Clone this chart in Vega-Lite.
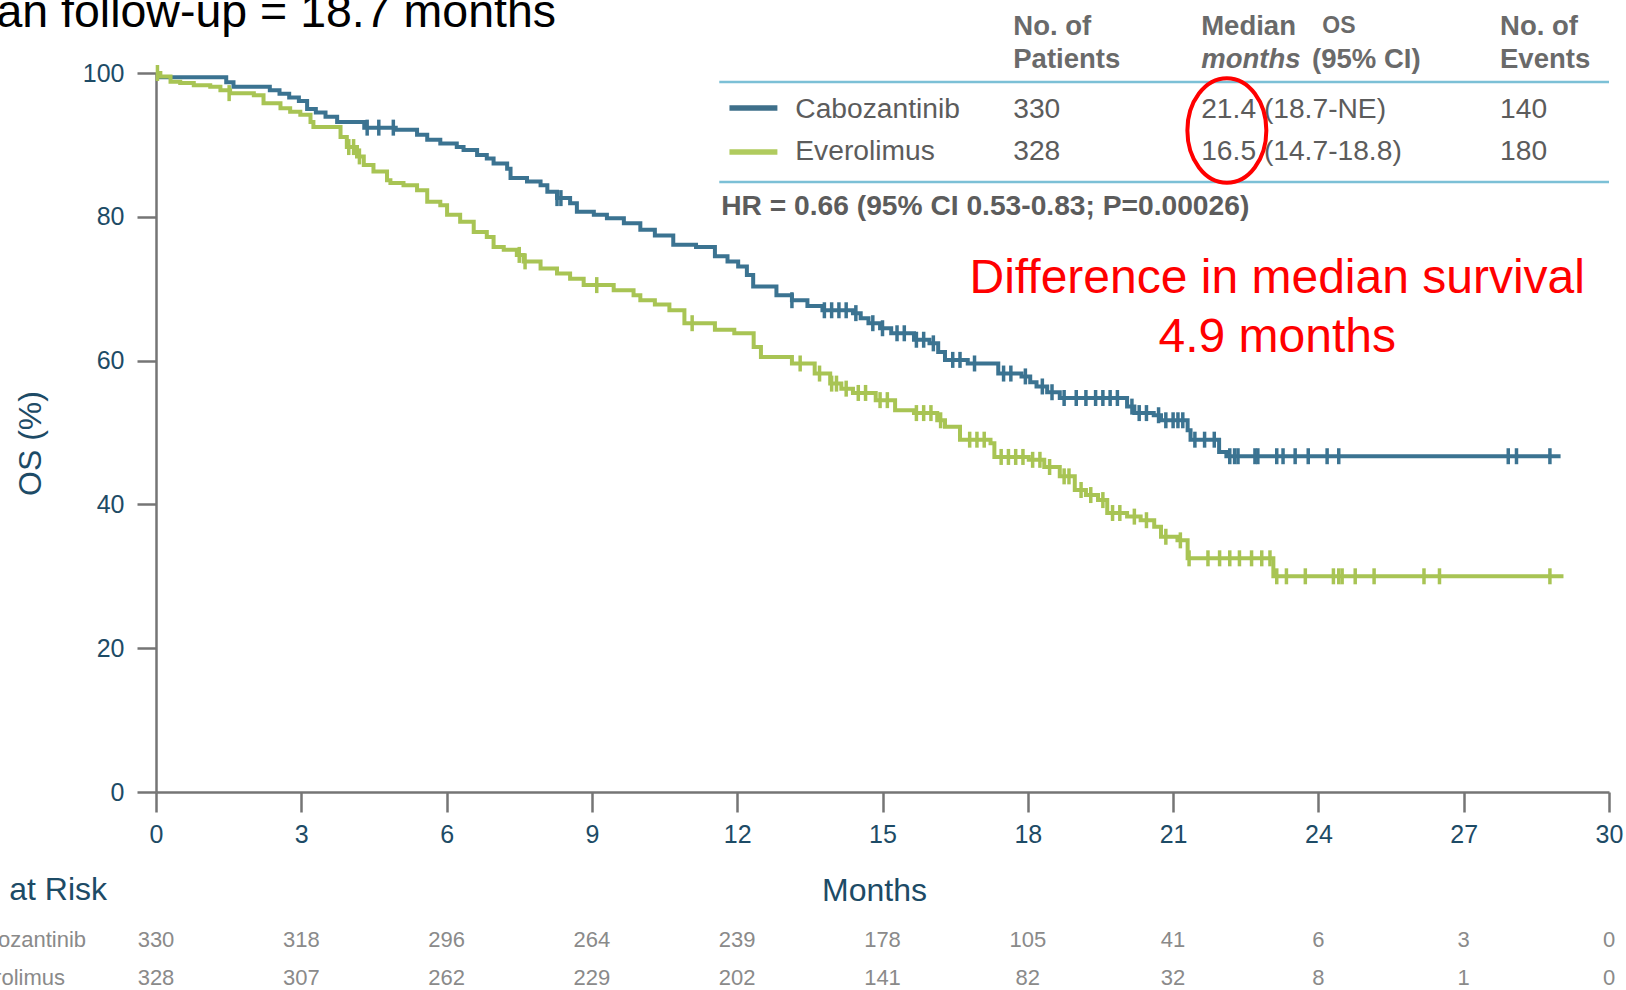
{
  "$schema": "https://vega.github.io/schema/vega-lite/v6.json",
  "width": 1453,
  "height": 719,
  "autosize": {"type": "none"},
  "padding": {"left": 156, "top": 73, "right": 17, "bottom": 198},
  "background": "white",
  "config": {"view": {"stroke": null}, "font": "Liberation Sans"},
  "datasets": {
    "km": [
      {"arm":"Cabozantinib","t":0,"s":100},{"arm":"Cabozantinib","t":0.05,"s":99.4},{"arm":"Cabozantinib","t":1.45,"s":98.7},{"arm":"Cabozantinib","t":1.6,"s":98.1},{"arm":"Cabozantinib","t":2.35,"s":97.6},{"arm":"Cabozantinib","t":2.55,"s":97.1},{"arm":"Cabozantinib","t":2.75,"s":96.6},{"arm":"Cabozantinib","t":2.95,"s":96.1},{"arm":"Cabozantinib","t":3.12,"s":95.0},{"arm":"Cabozantinib","t":3.3,"s":94.5},{"arm":"Cabozantinib","t":3.5,"s":93.9},{"arm":"Cabozantinib","t":3.74,"s":93.2},{"arm":"Cabozantinib","t":4.3,"s":92.4},{"arm":"Cabozantinib","t":4.95,"s":92.1},{"arm":"Cabozantinib","t":5.39,"s":91.4},{"arm":"Cabozantinib","t":5.6,"s":90.7},{"arm":"Cabozantinib","t":5.87,"s":90.2},{"arm":"Cabozantinib","t":6.21,"s":89.7},{"arm":"Cabozantinib","t":6.35,"s":89.3},{"arm":"Cabozantinib","t":6.63,"s":88.6},{"arm":"Cabozantinib","t":6.83,"s":88.1},{"arm":"Cabozantinib","t":6.97,"s":87.4},{"arm":"Cabozantinib","t":7.25,"s":86.7},{"arm":"Cabozantinib","t":7.32,"s":85.4},{"arm":"Cabozantinib","t":7.66,"s":84.9},{"arm":"Cabozantinib","t":7.94,"s":84.4},{"arm":"Cabozantinib","t":8.08,"s":83.5},{"arm":"Cabozantinib","t":8.28,"s":82.6},{"arm":"Cabozantinib","t":8.55,"s":81.9},{"arm":"Cabozantinib","t":8.69,"s":80.7},{"arm":"Cabozantinib","t":9.04,"s":80.3},{"arm":"Cabozantinib","t":9.31,"s":79.8},{"arm":"Cabozantinib","t":9.66,"s":79.1},{"arm":"Cabozantinib","t":10.0,"s":78.2},{"arm":"Cabozantinib","t":10.3,"s":77.4},{"arm":"Cabozantinib","t":10.68,"s":76.1},{"arm":"Cabozantinib","t":11.15,"s":75.8},{"arm":"Cabozantinib","t":11.54,"s":74.5},{"arm":"Cabozantinib","t":11.8,"s":73.8},{"arm":"Cabozantinib","t":12.02,"s":73.1},{"arm":"Cabozantinib","t":12.2,"s":71.9},{"arm":"Cabozantinib","t":12.33,"s":70.3},{"arm":"Cabozantinib","t":12.81,"s":69.1},{"arm":"Cabozantinib","t":13.13,"s":68.4},{"arm":"Cabozantinib","t":13.45,"s":67.6},{"arm":"Cabozantinib","t":13.76,"s":67.0},{"arm":"Cabozantinib","t":14.39,"s":66.6},{"arm":"Cabozantinib","t":14.55,"s":65.9},{"arm":"Cabozantinib","t":14.71,"s":65.2},{"arm":"Cabozantinib","t":14.95,"s":64.5},{"arm":"Cabozantinib","t":15.18,"s":63.8},{"arm":"Cabozantinib","t":15.65,"s":62.9},{"arm":"Cabozantinib","t":15.97,"s":62.4},{"arm":"Cabozantinib","t":16.15,"s":61.2},{"arm":"Cabozantinib","t":16.29,"s":60.1},{"arm":"Cabozantinib","t":16.76,"s":59.6},{"arm":"Cabozantinib","t":17.39,"s":58.2},{"arm":"Cabozantinib","t":17.87,"s":57.8},{"arm":"Cabozantinib","t":18.05,"s":57.0},{"arm":"Cabozantinib","t":18.18,"s":56.4},{"arm":"Cabozantinib","t":18.4,"s":55.6},{"arm":"Cabozantinib","t":18.66,"s":54.8},{"arm":"Cabozantinib","t":20.05,"s":53.6},{"arm":"Cabozantinib","t":20.2,"s":52.7},{"arm":"Cabozantinib","t":20.6,"s":52.4},{"arm":"Cabozantinib","t":20.75,"s":51.7},{"arm":"Cabozantinib","t":21.3,"s":50.3},{"arm":"Cabozantinib","t":21.36,"s":49.0},{"arm":"Cabozantinib","t":21.95,"s":47.3},{"arm":"Cabozantinib","t":22.1,"s":46.7},{"arm":"Cabozantinib","t":29.0,"s":46.7},
      {"arm":"Everolimus","t":0,"s":100},{"arm":"Everolimus","t":0.09,"s":99.5},{"arm":"Everolimus","t":0.3,"s":98.8},{"arm":"Everolimus","t":0.5,"s":98.6},{"arm":"Everolimus","t":0.78,"s":98.3},{"arm":"Everolimus","t":1.12,"s":98.1},{"arm":"Everolimus","t":1.33,"s":97.6},{"arm":"Everolimus","t":1.53,"s":97.2},{"arm":"Everolimus","t":2.02,"s":96.9},{"arm":"Everolimus","t":2.22,"s":95.8},{"arm":"Everolimus","t":2.57,"s":95.1},{"arm":"Everolimus","t":2.77,"s":94.6},{"arm":"Everolimus","t":2.98,"s":94.2},{"arm":"Everolimus","t":3.19,"s":93.2},{"arm":"Everolimus","t":3.25,"s":92.5},{"arm":"Everolimus","t":3.81,"s":91.1},{"arm":"Everolimus","t":3.94,"s":89.7},{"arm":"Everolimus","t":4.15,"s":88.4},{"arm":"Everolimus","t":4.29,"s":87.2},{"arm":"Everolimus","t":4.49,"s":86.3},{"arm":"Everolimus","t":4.77,"s":85.1},{"arm":"Everolimus","t":4.84,"s":84.7},{"arm":"Everolimus","t":5.11,"s":84.4},{"arm":"Everolimus","t":5.39,"s":83.7},{"arm":"Everolimus","t":5.6,"s":82.1},{"arm":"Everolimus","t":5.87,"s":81.6},{"arm":"Everolimus","t":6.01,"s":80.3},{"arm":"Everolimus","t":6.28,"s":79.3},{"arm":"Everolimus","t":6.56,"s":77.9},{"arm":"Everolimus","t":6.83,"s":77.2},{"arm":"Everolimus","t":6.97,"s":75.8},{"arm":"Everolimus","t":7.18,"s":75.4},{"arm":"Everolimus","t":7.45,"s":74.7},{"arm":"Everolimus","t":7.59,"s":73.8},{"arm":"Everolimus","t":7.94,"s":72.8},{"arm":"Everolimus","t":8.28,"s":72.1},{"arm":"Everolimus","t":8.55,"s":71.4},{"arm":"Everolimus","t":8.83,"s":70.5},{"arm":"Everolimus","t":9.45,"s":69.8},{"arm":"Everolimus","t":9.86,"s":69.1},{"arm":"Everolimus","t":10.0,"s":68.4},{"arm":"Everolimus","t":10.3,"s":67.8},{"arm":"Everolimus","t":10.6,"s":67.0},{"arm":"Everolimus","t":10.91,"s":65.2},{"arm":"Everolimus","t":11.54,"s":64.3},{"arm":"Everolimus","t":11.94,"s":63.8},{"arm":"Everolimus","t":12.34,"s":61.9},{"arm":"Everolimus","t":12.49,"s":60.5},{"arm":"Everolimus","t":13.13,"s":59.6},{"arm":"Everolimus","t":13.6,"s":58.2},{"arm":"Everolimus","t":13.92,"s":56.8},{"arm":"Everolimus","t":14.15,"s":56.1},{"arm":"Everolimus","t":14.39,"s":55.5},{"arm":"Everolimus","t":14.86,"s":54.5},{"arm":"Everolimus","t":15.26,"s":53.1},{"arm":"Everolimus","t":15.65,"s":52.7},{"arm":"Everolimus","t":16.13,"s":51.7},{"arm":"Everolimus","t":16.29,"s":50.8},{"arm":"Everolimus","t":16.6,"s":49.0},{"arm":"Everolimus","t":17.23,"s":48.5},{"arm":"Everolimus","t":17.31,"s":46.6},{"arm":"Everolimus","t":18.02,"s":46.2},{"arm":"Everolimus","t":18.34,"s":45.2},{"arm":"Everolimus","t":18.66,"s":43.9},{"arm":"Everolimus","t":18.97,"s":42.0},{"arm":"Everolimus","t":19.2,"s":41.3},{"arm":"Everolimus","t":19.45,"s":40.6},{"arm":"Everolimus","t":19.64,"s":38.8},{"arm":"Everolimus","t":20.05,"s":38.3},{"arm":"Everolimus","t":20.33,"s":37.8},{"arm":"Everolimus","t":20.61,"s":36.9},{"arm":"Everolimus","t":20.75,"s":35.5},{"arm":"Everolimus","t":21.09,"s":35.0},{"arm":"Everolimus","t":21.3,"s":32.5},{"arm":"Everolimus","t":23.07,"s":30.0},{"arm":"Everolimus","t":29.06,"s":30.0}
    ],
    "censored": [
      {"arm":"Cabozantinib","t":4.36,"s":92.4},{"arm":"Cabozantinib","t":4.6,"s":92.4},{"arm":"Cabozantinib","t":4.9,"s":92.4},{"arm":"Cabozantinib","t":8.28,"s":82.6},{"arm":"Cabozantinib","t":8.36,"s":82.6},{"arm":"Cabozantinib","t":13.13,"s":68.4},{"arm":"Cabozantinib","t":13.8,"s":67.0},{"arm":"Cabozantinib","t":13.95,"s":67.0},{"arm":"Cabozantinib","t":14.1,"s":67.0},{"arm":"Cabozantinib","t":14.25,"s":67.0},{"arm":"Cabozantinib","t":14.45,"s":66.6},{"arm":"Cabozantinib","t":14.8,"s":65.2},{"arm":"Cabozantinib","t":15.0,"s":64.5},{"arm":"Cabozantinib","t":15.3,"s":63.8},{"arm":"Cabozantinib","t":15.45,"s":63.8},{"arm":"Cabozantinib","t":15.7,"s":62.9},{"arm":"Cabozantinib","t":15.85,"s":62.9},{"arm":"Cabozantinib","t":16.05,"s":62.4},{"arm":"Cabozantinib","t":16.45,"s":60.1},{"arm":"Cabozantinib","t":16.6,"s":60.1},{"arm":"Cabozantinib","t":16.9,"s":59.6},{"arm":"Cabozantinib","t":17.5,"s":58.2},{"arm":"Cabozantinib","t":17.65,"s":58.2},{"arm":"Cabozantinib","t":17.95,"s":57.8},{"arm":"Cabozantinib","t":18.3,"s":56.4},{"arm":"Cabozantinib","t":18.5,"s":55.6},{"arm":"Cabozantinib","t":18.75,"s":54.8},{"arm":"Cabozantinib","t":19.0,"s":54.8},{"arm":"Cabozantinib","t":19.2,"s":54.8},{"arm":"Cabozantinib","t":19.4,"s":54.8},{"arm":"Cabozantinib","t":19.55,"s":54.8},{"arm":"Cabozantinib","t":19.7,"s":54.8},{"arm":"Cabozantinib","t":19.85,"s":54.8},{"arm":"Cabozantinib","t":20.15,"s":53.6},{"arm":"Cabozantinib","t":20.3,"s":52.7},{"arm":"Cabozantinib","t":20.45,"s":52.7},{"arm":"Cabozantinib","t":20.7,"s":52.4},{"arm":"Cabozantinib","t":20.85,"s":51.7},{"arm":"Cabozantinib","t":21.0,"s":51.7},{"arm":"Cabozantinib","t":21.1,"s":51.7},{"arm":"Cabozantinib","t":21.2,"s":51.7},{"arm":"Cabozantinib","t":21.45,"s":49.0},{"arm":"Cabozantinib","t":21.65,"s":49.0},{"arm":"Cabozantinib","t":21.85,"s":49.0},{"arm":"Cabozantinib","t":22.17,"s":46.7},{"arm":"Cabozantinib","t":22.27,"s":46.7},{"arm":"Cabozantinib","t":22.34,"s":46.7},{"arm":"Cabozantinib","t":22.69,"s":46.7},{"arm":"Cabozantinib","t":22.75,"s":46.7},{"arm":"Cabozantinib","t":23.14,"s":46.7},{"arm":"Cabozantinib","t":23.27,"s":46.7},{"arm":"Cabozantinib","t":23.52,"s":46.7},{"arm":"Cabozantinib","t":23.79,"s":46.7},{"arm":"Cabozantinib","t":24.18,"s":46.7},{"arm":"Cabozantinib","t":24.42,"s":46.7},{"arm":"Cabozantinib","t":27.92,"s":46.7},{"arm":"Cabozantinib","t":28.09,"s":46.7},{"arm":"Cabozantinib","t":28.78,"s":46.7},
      {"arm":"Everolimus","t":0.03,"s":100},{"arm":"Everolimus","t":1.51,"s":97.2},{"arm":"Everolimus","t":3.98,"s":89.7},{"arm":"Everolimus","t":4.08,"s":89.7},{"arm":"Everolimus","t":4.2,"s":88.4},{"arm":"Everolimus","t":7.5,"s":74.7},{"arm":"Everolimus","t":7.62,"s":73.8},{"arm":"Everolimus","t":9.1,"s":70.5},{"arm":"Everolimus","t":11.07,"s":65.2},{"arm":"Everolimus","t":13.3,"s":59.6},{"arm":"Everolimus","t":13.7,"s":58.2},{"arm":"Everolimus","t":13.95,"s":56.8},{"arm":"Everolimus","t":14.05,"s":56.8},{"arm":"Everolimus","t":14.25,"s":56.1},{"arm":"Everolimus","t":14.5,"s":55.5},{"arm":"Everolimus","t":14.65,"s":55.5},{"arm":"Everolimus","t":14.95,"s":54.5},{"arm":"Everolimus","t":15.1,"s":54.5},{"arm":"Everolimus","t":15.7,"s":52.7},{"arm":"Everolimus","t":15.85,"s":52.7},{"arm":"Everolimus","t":16.0,"s":52.7},{"arm":"Everolimus","t":16.2,"s":51.7},{"arm":"Everolimus","t":16.8,"s":49.0},{"arm":"Everolimus","t":16.95,"s":49.0},{"arm":"Everolimus","t":17.1,"s":49.0},{"arm":"Everolimus","t":17.45,"s":46.6},{"arm":"Everolimus","t":17.6,"s":46.6},{"arm":"Everolimus","t":17.75,"s":46.6},{"arm":"Everolimus","t":17.9,"s":46.6},{"arm":"Everolimus","t":18.1,"s":46.2},{"arm":"Everolimus","t":18.25,"s":46.2},{"arm":"Everolimus","t":18.45,"s":45.2},{"arm":"Everolimus","t":18.75,"s":43.9},{"arm":"Everolimus","t":18.85,"s":43.9},{"arm":"Everolimus","t":19.1,"s":42.0},{"arm":"Everolimus","t":19.3,"s":41.3},{"arm":"Everolimus","t":19.55,"s":40.6},{"arm":"Everolimus","t":19.75,"s":38.8},{"arm":"Everolimus","t":19.9,"s":38.8},{"arm":"Everolimus","t":20.2,"s":38.3},{"arm":"Everolimus","t":20.45,"s":37.8},{"arm":"Everolimus","t":20.85,"s":35.5},{"arm":"Everolimus","t":21.15,"s":35.0},{"arm":"Everolimus","t":21.33,"s":32.5},{"arm":"Everolimus","t":21.72,"s":32.5},{"arm":"Everolimus","t":21.96,"s":32.5},{"arm":"Everolimus","t":22.17,"s":32.5},{"arm":"Everolimus","t":22.37,"s":32.5},{"arm":"Everolimus","t":22.62,"s":32.5},{"arm":"Everolimus","t":22.83,"s":32.5},{"arm":"Everolimus","t":23.0,"s":32.5},{"arm":"Everolimus","t":23.14,"s":30.0},{"arm":"Everolimus","t":23.34,"s":30.0},{"arm":"Everolimus","t":23.73,"s":30.0},{"arm":"Everolimus","t":24.31,"s":30.0},{"arm":"Everolimus","t":24.42,"s":30.0},{"arm":"Everolimus","t":24.49,"s":30.0},{"arm":"Everolimus","t":24.76,"s":30.0},{"arm":"Everolimus","t":25.15,"s":30.0},{"arm":"Everolimus","t":26.18,"s":30.0},{"arm":"Everolimus","t":26.5,"s":30.0},{"arm":"Everolimus","t":28.78,"s":30.0}
    ],
    "risk": [
      {"arm":"Cabozantinib","t":0,"n":330},{"arm":"Cabozantinib","t":3,"n":318},{"arm":"Cabozantinib","t":6,"n":296},{"arm":"Cabozantinib","t":9,"n":264},{"arm":"Cabozantinib","t":12,"n":239},{"arm":"Cabozantinib","t":15,"n":178},{"arm":"Cabozantinib","t":18,"n":105},{"arm":"Cabozantinib","t":21,"n":41},{"arm":"Cabozantinib","t":24,"n":6},{"arm":"Cabozantinib","t":27,"n":3},{"arm":"Cabozantinib","t":30,"n":0},
      {"arm":"Everolimus","t":0,"n":328},{"arm":"Everolimus","t":3,"n":307},{"arm":"Everolimus","t":6,"n":262},{"arm":"Everolimus","t":9,"n":229},{"arm":"Everolimus","t":12,"n":202},{"arm":"Everolimus","t":15,"n":141},{"arm":"Everolimus","t":18,"n":82},{"arm":"Everolimus","t":21,"n":32},{"arm":"Everolimus","t":24,"n":8},{"arm":"Everolimus","t":27,"n":1},{"arm":"Everolimus","t":30,"n":0}
    ]
  },
  "layer": [
    {
      "data": {"name": "km"},
      "mark": {"type": "line", "interpolate": "step-after", "strokeWidth": 4},
      "encoding": {
        "x": {
          "field": "t", "type": "quantitative",
          "scale": {"domain": [0, 30], "nice": false, "zero": false},
          "axis": {
            "values": [0, 3, 6, 9, 12, 15, 18, 21, 24, 27, 30],
            "grid": false, "labelFlush": false, "labelOverlap": false,
            "domainColor": "#757575", "domainWidth": 2.5,
            "tickColor": "#757575", "tickWidth": 2.5, "tickSize": 20,
            "labelFont": "Liberation Sans", "labelFontSize": 25, "labelColor": "#1d4b66", "labelPadding": 10,
            "title": "Months", "titleFont": "Liberation Sans", "titleFontSize": 32, "titleFontWeight": "normal",
            "titleColor": "#1d4b66", "titleX": 718, "titleY": 108, "titleAlign": "center", "titleBaseline": "alphabetic"
          }
        },
        "y": {
          "field": "s", "type": "quantitative",
          "scale": {"domain": [0, 100], "nice": false, "zero": false},
          "axis": {
            "values": [0, 20, 40, 60, 80, 100],
            "grid": false, "labelFlush": false, "labelOverlap": false,
            "domainColor": "#757575", "domainWidth": 2.5,
            "tickColor": "#757575", "tickWidth": 2.5, "tickSize": 19,
            "labelFont": "Liberation Sans", "labelFontSize": 25, "labelColor": "#1d4b66", "labelPadding": 13,
            "title": "OS (%)", "titleFont": "Liberation Sans", "titleFontSize": 32, "titleFontWeight": "normal",
            "titleColor": "#1d4b66", "titleAngle": 270, "titleX": -126, "titleY": 370, "titleAlign": "center", "titleBaseline": "middle"
          }
        },
        "color": {
          "field": "arm", "type": "nominal",
          "scale": {"domain": ["Cabozantinib", "Everolimus"], "range": ["#3b7391", "#a8c454"]},
          "legend": null
        }
      }
    },
    {
      "data": {"name": "censored"},
      "mark": {"type": "tick", "orient": "vertical", "size": 16, "thickness": 3.5, "opacity": 1},
      "encoding": {
        "x": {"field": "t", "type": "quantitative"},
        "y": {"field": "s", "type": "quantitative"},
        "color": {"field": "arm", "type": "nominal", "legend": null}
      }
    },
    {
      "data": {"name": "risk"},
      "transform": [{"filter": "datum.arm === 'Cabozantinib'"}],
      "mark": {"type": "text", "align": "center", "baseline": "middle", "fontSize": 22, "color": "#8a8a8a", "font": "Liberation Sans"},
      "encoding": {
        "x": {"field": "t", "type": "quantitative"},
        "y": {"datum": -20.6, "type": "quantitative"},
        "text": {"field": "n", "type": "quantitative"}
      }
    },
    {
      "data": {"name": "risk"},
      "transform": [{"filter": "datum.arm === 'Everolimus'"}],
      "mark": {"type": "text", "align": "center", "baseline": "middle", "fontSize": 22, "color": "#8a8a8a", "font": "Liberation Sans"},
      "encoding": {
        "x": {"field": "t", "type": "quantitative"},
        "y": {"datum": -25.8, "type": "quantitative"},
        "text": {"field": "n", "type": "quantitative"}
      }
    },
    {
      "data": {"values": [{}]},
      "mark": {"type": "text", "align": "right", "baseline": "middle", "fontSize": 22, "color": "#8a8a8a", "font": "Liberation Sans"},
      "encoding": {"x": {"datum": -1.445, "type": "quantitative"}, "y": {"datum": -20.6, "type": "quantitative"}, "text": {"value": "Cabozantinib"}}
    },
    {
      "data": {"values": [{}]},
      "mark": {"type": "text", "align": "right", "baseline": "middle", "fontSize": 22, "color": "#8a8a8a", "font": "Liberation Sans"},
      "encoding": {"x": {"datum": -1.879, "type": "quantitative"}, "y": {"datum": -25.8, "type": "quantitative"}, "text": {"value": "Everolimus"}}
    },
    {
      "data": {"values": [{}]},
      "mark": {"type": "text", "align": "right", "baseline": "alphabetic", "fontSize": 32, "color": "#1d4b66", "font": "Liberation Sans"},
      "encoding": {"x": {"datum": -1.01, "type": "quantitative"}, "y": {"datum": -15.0, "type": "quantitative"}, "text": {"value": "No. at Risk"}}
    },
    {
      "data": {"values": [{}]},
      "mark": {"type": "text", "align": "right", "baseline": "alphabetic", "fontSize": 46.5, "color": "#000000", "font": "Liberation Sans"},
      "encoding": {"x": {"datum": 8.26, "type": "quantitative"}, "y": {"datum": 106.4, "type": "quantitative"}, "text": {"value": "Median follow-up = 18.7 months"}}
    },
    {
      "data": {"values": [{}]},
      "mark": {"type": "rule", "stroke": "#7cc0d6", "strokeWidth": 2.5},
      "encoding": {"x": {"datum": 11.63, "type": "quantitative"}, "x2": {"datum": 30}, "y": {"datum": 98.75, "type": "quantitative"}}
    },
    {
      "data": {"values": [{}]},
      "mark": {"type": "rule", "stroke": "#7cc0d6", "strokeWidth": 2.5},
      "encoding": {"x": {"datum": 11.63, "type": "quantitative"}, "x2": {"datum": 30}, "y": {"datum": 84.84, "type": "quantitative"}}
    },
    {
      "data": {"values": [{}]},
      "mark": {"type": "text", "align": "left", "baseline": "alphabetic", "fontSize": 27.5, "fontWeight": "bold", "color": "#6a6a6a", "font": "Liberation Sans", "lineHeight": 33},
      "encoding": {"x": {"datum": 17.7, "type": "quantitative"}, "y": {"datum": 105.29, "type": "quantitative"}, "text": {"value": ["No. of", "Patients"]}}
    },
    {
      "data": {"values": [{}]},
      "mark": {"type": "text", "align": "left", "baseline": "alphabetic", "fontSize": 27.5, "fontWeight": "bold", "color": "#6a6a6a", "font": "Liberation Sans"},
      "encoding": {"x": {"datum": 21.58, "type": "quantitative"}, "y": {"datum": 105.29, "type": "quantitative"}, "text": {"value": "Median"}}
    },
    {
      "data": {"values": [{}]},
      "mark": {"type": "text", "align": "left", "baseline": "alphabetic", "fontSize": 23, "fontWeight": "bold", "color": "#6a6a6a", "font": "Liberation Sans"},
      "encoding": {"x": {"datum": 24.08, "type": "quantitative"}, "y": {"datum": 105.56, "type": "quantitative"}, "text": {"value": "OS"}}
    },
    {
      "data": {"values": [{}]},
      "mark": {"type": "text", "align": "left", "baseline": "alphabetic", "fontSize": 27.5, "fontWeight": "bold", "fontStyle": "italic", "color": "#6a6a6a", "font": "Liberation Sans"},
      "encoding": {"x": {"datum": 21.58, "type": "quantitative"}, "y": {"datum": 100.7, "type": "quantitative"}, "text": {"value": "months"}}
    },
    {
      "data": {"values": [{}]},
      "mark": {"type": "text", "align": "left", "baseline": "alphabetic", "fontSize": 27.5, "fontWeight": "bold", "color": "#6a6a6a", "font": "Liberation Sans"},
      "encoding": {"x": {"datum": 23.87, "type": "quantitative"}, "y": {"datum": 100.7, "type": "quantitative"}, "text": {"value": "(95% CI)"}}
    },
    {
      "data": {"values": [{}]},
      "mark": {"type": "text", "align": "left", "baseline": "alphabetic", "fontSize": 27.5, "fontWeight": "bold", "color": "#6a6a6a", "font": "Liberation Sans", "lineHeight": 33},
      "encoding": {"x": {"datum": 27.75, "type": "quantitative"}, "y": {"datum": 105.29, "type": "quantitative"}, "text": {"value": ["No. of", "Events"]}}
    },
    {
      "data": {"values": [{}]},
      "mark": {"type": "rule", "stroke": "#3e6f8a", "strokeWidth": 5.5},
      "encoding": {"x": {"datum": 11.84, "type": "quantitative"}, "x2": {"datum": 12.83}, "y": {"datum": 95.13, "type": "quantitative"}}
    },
    {
      "data": {"values": [{}]},
      "mark": {"type": "rule", "stroke": "#b0cb5e", "strokeWidth": 5.5},
      "encoding": {"x": {"datum": 11.84, "type": "quantitative"}, "x2": {"datum": 12.83}, "y": {"datum": 89.01, "type": "quantitative"}}
    },
    {
      "data": {"values": [{}]},
      "mark": {"type": "text", "align": "left", "baseline": "alphabetic", "fontSize": 28.2, "color": "#5c5c5c", "font": "Liberation Sans", "lineHeight": 42},
      "encoding": {"x": {"datum": 13.2, "type": "quantitative"}, "y": {"datum": 93.74, "type": "quantitative"}, "text": {"value": ["Cabozantinib", "Everolimus"]}}
    },
    {
      "data": {"values": [{}]},
      "mark": {"type": "text", "align": "left", "baseline": "alphabetic", "fontSize": 28.2, "color": "#5c5c5c", "font": "Liberation Sans", "lineHeight": 42},
      "encoding": {"x": {"datum": 17.7, "type": "quantitative"}, "y": {"datum": 93.74, "type": "quantitative"}, "text": {"value": ["330", "328"]}}
    },
    {
      "data": {"values": [{}]},
      "mark": {"type": "text", "align": "left", "baseline": "alphabetic", "fontSize": 28.2, "color": "#5c5c5c", "font": "Liberation Sans", "lineHeight": 42},
      "encoding": {"x": {"datum": 21.58, "type": "quantitative"}, "y": {"datum": 93.74, "type": "quantitative"}, "text": {"value": ["21.4 (18.7-NE)", "16.5 (14.7-18.8)"]}}
    },
    {
      "data": {"values": [{}]},
      "mark": {"type": "text", "align": "left", "baseline": "alphabetic", "fontSize": 28.2, "color": "#5c5c5c", "font": "Liberation Sans", "lineHeight": 42},
      "encoding": {"x": {"datum": 27.75, "type": "quantitative"}, "y": {"datum": 93.74, "type": "quantitative"}, "text": {"value": ["140", "180"]}}
    },
    {
      "data": {"values": [{}]},
      "mark": {"type": "text", "align": "left", "baseline": "alphabetic", "fontSize": 28.2, "fontWeight": "bold", "color": "#5c5c5c", "font": "Liberation Sans"},
      "encoding": {"x": {"datum": 11.67, "type": "quantitative"}, "y": {"datum": 80.25, "type": "quantitative"}, "text": {"value": "HR = 0.66 (95% CI 0.53-0.83; P=0.00026)"}}
    },
    {
      "data": {"values": [{}]},
      "mark": {"type": "point", "shape": "M-0.755,0A0.755,1,0,1,0,0.755,0A0.755,1,0,1,0,-0.755,0Z", "size": 10941, "filled": false, "stroke": "#ff0000", "strokeWidth": 4, "opacity": 1},
      "encoding": {"x": {"datum": 22.11, "type": "quantitative"}, "y": {"datum": 92.0, "type": "quantitative"}}
    },
    {
      "data": {"values": [{}]},
      "mark": {"type": "text", "align": "center", "baseline": "alphabetic", "fontSize": 48, "color": "#ff0000", "font": "Liberation Sans", "lineHeight": 59},
      "encoding": {"x": {"datum": 23.15, "type": "quantitative"}, "y": {"datum": 69.4, "type": "quantitative"}, "text": {"value": ["Difference in median survival", "4.9 months"]}}
    }
  ]
}
